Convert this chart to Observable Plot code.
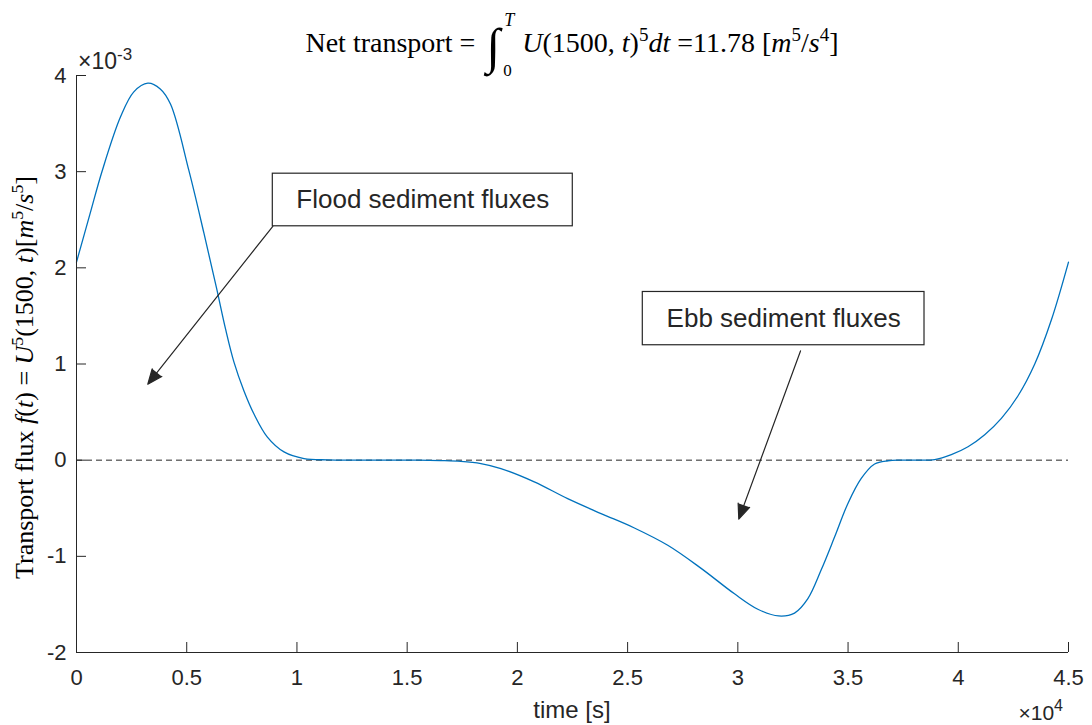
<!DOCTYPE html>
<html><head><meta charset="utf-8">
<script src="https://cdn.jsdelivr.net/npm/d3@7"></script>
<script src="https://cdn.jsdelivr.net/npm/@observablehq/plot@0.6"></script>
<style>body{margin:0;background:#fff} #chart svg{display:block} text{white-space:pre}</style>
</head><body><div id="chart"></div>
<script>
// time [s]
const timeS = [0, 600, 1167, 1998, 2600, 3238, 3800, 4268, 5100, 5781, 6343, 6766, 7143, 7597, 8051, 8660, 9413, 10322, 11384, 12500, 14000, 15500, 16500, 17436, 18345, 19253, 20766, 22280, 23794, 25307, 26821, 28335, 29848, 30907, 31850, 32572, 33177, 33783, 34388, 34994, 35599, 36204, 36810, 37415, 38200, 38929, 39685, 40442, 41199, 41955, 42712, 43469, 44225, 45000];
// transport flux f(t), in units of 1e-3 m^5/s^5
const fluxE3 = [2.06, 2.55, 3.01, 3.57, 3.83, 3.92, 3.86, 3.70, 3.01, 2.36, 1.80, 1.36, 1.02, 0.72, 0.48, 0.24, 0.086, 0.017, 0.003, 0.0, 0.0, 0.0, -0.004, -0.012, -0.035, -0.087, -0.225, -0.40, -0.555, -0.705, -0.885, -1.125, -1.39, -1.55, -1.62, -1.59, -1.44, -1.14, -0.80, -0.45, -0.19, -0.04, -0.006, 0.0, 0.0, 0.006, 0.058, 0.14, 0.265, 0.435, 0.67, 1.0, 1.46, 2.06];
const xTicks = [0, 5000, 10000, 15000, 20000, 25000, 30000, 35000, 40000, 45000];
const yTicks = [-2, -1, 0, 1, 2, 3, 4];
const zeroLine = [0];
// annotations
const annoText = ["Flood sediment fluxes", "Ebb sediment fluxes"];
const boxX1 = [8905, 25689];
const boxX2 = [22513, 38468];
const boxY1 = [2.432, 1.195];
const boxY2 = [2.979, 1.749];
const arrowX1 = [8905, 32843];
const arrowY1 = [2.432, 1.136];
const arrowX2 = [3234, 30044];
const arrowY2 = [0.790, -0.613];

const data = timeS.map((t, i) => ({t, f: fluxE3[i]}));
const annos = annoText.map((text, i) => ({text, bx1: boxX1[i], bx2: boxX2[i], by1: boxY1[i], by2: boxY2[i],
  ax1: arrowX1[i], ay1: arrowY1[i], ax2: arrowX2[i], ay2: arrowY2[i]}));

const W = 1092, H = 725, mL = 76, mR = 24, mT = 75, mB = 73;
const ink = "#262626";
const sans = "'Liberation Sans', Arial, Helvetica, sans-serif";
const serif = "'Liberation Serif', 'Times New Roman', serif";
const fw = W - mL - mR, fh = H - mT - mB;

const chart = Plot.plot({
  width: W, height: H, marginLeft: mL, marginRight: mR, marginTop: mT, marginBottom: mB,
  style: {fontFamily: sans, fontSize: "22px", color: ink, background: "#fff", overflow: "visible"},
  x: {domain: [0, 45000]},
  y: {domain: [-2, 4]},
  marks: [
    Plot.ruleY(zeroLine, {y: d => d, stroke: ink, strokeDasharray: "6,4", strokeWidth: 1}),
    Plot.line(data, {x: "t", y: "f", stroke: "#0072BD", strokeWidth: 1.3, curve: "catmull-rom"}),
    Plot.arrow(annos, {x1: "ax1", y1: "ay1", x2: "ax2", y2: "ay2", stroke: ink, fill: ink, strokeWidth: 1.2, headLength: 20, headAngle: 45}),
    Plot.rect(annos, {x1: "bx1", x2: "bx2", y1: "by1", y2: "by2", fill: "white", stroke: ink, strokeWidth: 1.2}),
    Plot.text(annos, {x: d => (d.bx1 + d.bx2) / 2, y: d => (d.by1 + d.by2) / 2, text: "text", fontSize: 26, fill: ink}),
    Plot.tickX(xTicks, {x: d => d, insetTop: fh - 10, stroke: ink}),
    Plot.tickY(yTicks, {y: d => d, insetRight: fw - 10, stroke: ink}),
    Plot.ruleY([-2], {stroke: ink}),
    Plot.ruleX([0], {stroke: ink}),
    Plot.axisX(xTicks, {tickSize: 0, tickPadding: 17, tickFormat: d => String(d / 1e4), label: null, fontSize: 22}),
    Plot.axisY(yTicks, {tickSize: 0, tickPadding: 10, tickFormat: d => String(d), label: null, fontSize: 22})
  ]
});
document.getElementById("chart").append(chart);

const svg = d3.select(chart);

function addRich(g, x, y, parts, size, family) {
  const t = g.append("text").attr("x", x).attr("y", y).attr("font-family", family || serif)
    .attr("font-size", size).attr("fill", "#000").attr("text-anchor", "start");
  let shift = 0;
  for (const p of parts) {
    const s = t.append("tspan").text(p.s);
    if (p.i) s.attr("font-style", "italic");
    const target = p.sup ? -size * 0.38 : 0;
    if (target !== shift) { s.attr("dy", target - shift); shift = target; }
    if (p.sup) s.attr("font-size", size * 0.68);
  }
  return t;
}
function plain(g, x, y, str, size, opts = {}) {
  const t = g.append("text").attr("x", x).attr("y", y).attr("font-family", opts.family || serif)
    .attr("font-size", size).attr("fill", opts.fill || "#000").attr("text-anchor", opts.anchor || "start").text(str);
  if (opts.italic) t.attr("font-style", "italic");
  return t;
}

// Title
const TS = 28;
const tg = svg.append("g");
const tA = addRich(tg, 0, 52, [{s: "Net transport = "}], TS);
const w1 = tA.node().getComputedTextLength();
plain(tg, w1 + 4, 63, "∫", 50);
plain(tg, w1 + 22, 26, "T", 18, {italic: true});
plain(tg, w1 + 21, 76, "0", 17);
const tB = addRich(tg, w1 + 40, 52, [
  {s: "U", i: 1}, {s: "(1500, "}, {s: "t", i: 1}, {s: ")"}, {s: "5", sup: 1}, {s: "dt", i: 1}, {s: " =11.78 ["},
  {s: "m", i: 1}, {s: "5", sup: 1}, {s: "/"}, {s: "s", i: 1}, {s: "4", sup: 1}, {s: "]"}
], TS);
const totalW = w1 + 40 + tB.node().getComputedTextLength();
tg.attr("transform", `translate(${mL + fw / 2 - totalW / 2},0)`);

// Y label
const yl = svg.append("g").attr("transform", `translate(33,${mT + fh / 2 + 14}) rotate(-90)`);
addRich(yl, 0, 0, [
  {s: "Transport flux "}, {s: "f", i: 1}, {s: "("}, {s: "t", i: 1}, {s: ") = "}, {s: "U", i: 1}, {s: "5", sup: 1},
  {s: "(1500, "}, {s: "t", i: 1}, {s: ")["}, {s: "m", i: 1}, {s: "5", sup: 1}, {s: "/"}, {s: "s", i: 1}, {s: "5", sup: 1}, {s: "]"}
], 26).attr("text-anchor", "middle");

// exponent labels
const e1 = svg.append("text").attr("x", mL + 2).attr("y", mT - 6).attr("font-family", sans).attr("font-size", 23)
  .attr("fill", ink).attr("text-anchor", "start");
e1.append("tspan").text("×10");
e1.append("tspan").attr("dy", -9).attr("font-size", 17).text("-3");
const e2 = svg.append("text").attr("x", W - mR - 5).attr("y", 720).attr("font-family", sans).attr("font-size", 21)
  .attr("fill", ink).attr("text-anchor", "end");
e2.append("tspan").text("×10");
e2.append("tspan").attr("dy", -9).attr("font-size", 16).text("4");

// X label
plain(svg, mL + fw / 2, 718, "time [s]", 24, {family: sans, fill: ink, anchor: "middle"});
</script>
</body></html>
